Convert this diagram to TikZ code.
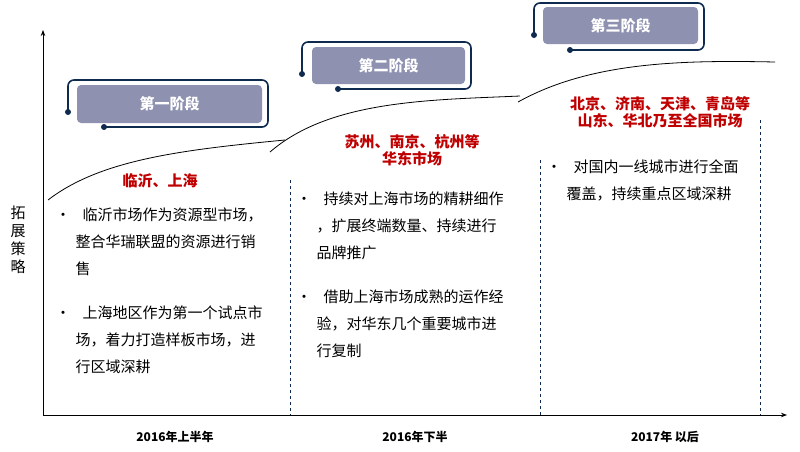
\documentclass[tikz,border=0pt]{standalone}
\usepackage{fontspec}
\setmainfont{Noto Sans CJK SC}
\usetikzlibrary{arrows.meta}
\definecolor{stagefill}{HTML}{8E91B0}
\definecolor{navy}{HTML}{0E2A4E}
\definecolor{redtxt}{HTML}{C00000}
\tikzset{
  stagebox/.style={fill=stagefill,rounded corners=4pt,text=white,font=\bfseries\fontsize{15}{17}\selectfont},
  place/.style={text=redtxt,font=\bfseries\fontsize{15}{17}\selectfont,align=center},
  bullets/.style={anchor=north west,align=left,font=\fontsize{15}{27}\selectfont},
  period/.style={font=\bfseries\fontsize{12}{14}\selectfont},
  bracket/.style={navy,line width=1.6pt,rounded corners=6pt},
  dot/.style={circle,fill=navy,inner sep=0pt,minimum size=6pt},
  divider/.style={navy,dashed,thin}
}
\begin{document}
\begin{tikzpicture}[x=1pt,y=-1pt]
  \useasboundingbox (0,0) rectangle (800,451);
  % axes
  \coordinate (o) at (43,415);
  \draw[thick,-{Stealth[length=6pt]}] (o) -- (43,30);
  \draw[thick,-{Stealth[length=6pt]}] (o) -- (787,415);
  \node[align=center,font=\fontsize{15}{18}\selectfont] (ylab) at (18,240) {拓\\展\\策\\略};

  % growth curve
  \draw[thick] (48,200) .. controls (100,160) and (180,150) .. (285,140);
  \draw[thick] (270,152) .. controls (330,100) and (430,100) .. (520,96);
  \draw[thick] (518,102) .. controls (590,62) and (680,60) .. (775,62);

  % stages
  \node[stagebox,minimum width=185pt,minimum height=38pt] (s1) at (169.5,104) {第一阶段};
  \draw[bracket] (68,112) -- (68,80) -- (268,80) -- (268,127) -- (104,127);
  \node[dot] at (68,112) {}; \node[dot] at (104,127) {};
  \node[stagebox,minimum width=153pt,minimum height=37pt] (s2) at (388.5,65.5) {第二阶段};
  \draw[bracket] (302,74) -- (302,42) -- (471,42) -- (471,89) -- (338,89);
  \node[dot] at (302,74) {}; \node[dot] at (338,89) {};
  \node[stagebox,minimum width=155pt,minimum height=37pt] (s3) at (620.5,25.5) {第三阶段};
  \draw[bracket] (534,35) -- (534,3) -- (704,3) -- (704,50) -- (570,50);
  \node[dot] at (534,35) {}; \node[dot] at (570,50) {};

  % dividers
  \draw[divider] (290,180) -- (290,415);
  \draw[divider] (540,160) -- (540,415);
  \draw[divider] (760,120) -- (760,415);

  % markets
  \node[place] (m1) at (160,181) {临沂、上海};
  \node[place] (m2) at (412,150) {苏州、南京、杭州等\\华东市场};
  \node[place] (m3) at (660,112) {北京、济南、天津、青岛等\\山东、华北乃至全国市场};

  % bullet texts
  \node[bullets] (b1) at (52,204) {•\hspace{12pt}临沂市场作为资源型市场，\\\hspace{20pt}整合华瑞联盟的资源进行销\\\hspace{20pt}售};
  \node[bullets] (b2) at (52,302) {•\hspace{12pt}上海地区作为第一个试点市\\\hspace{20pt}场，着力打造样板市场，进\\\hspace{20pt}行区域深耕};
  \node[bullets] (b3) at (293,188) {•\hspace{12pt}持续对上海市场的精耕细作\\\hspace{20pt}，扩展终端数量、持续进行\\\hspace{20pt}品牌推广};
  \node[bullets] (b4) at (293,286) {•\hspace{12pt}借助上海市场成熟的运作经\\\hspace{20pt}验，对华东几个重要城市进\\\hspace{20pt}行复制};
  \node[bullets] (b5) at (543,156) {•\hspace{12pt}对国内一线城市进行全面\\\hspace{20pt}覆盖，持续重点区域深耕};

  % periods
  \node[period] (p1) at (175,437) {2016年上半年};
  \node[period] (p2) at (415,437) {2016年下半};
  \node[period] (p3) at (665,437) {2017年 以后};
\end{tikzpicture}
\end{document}
